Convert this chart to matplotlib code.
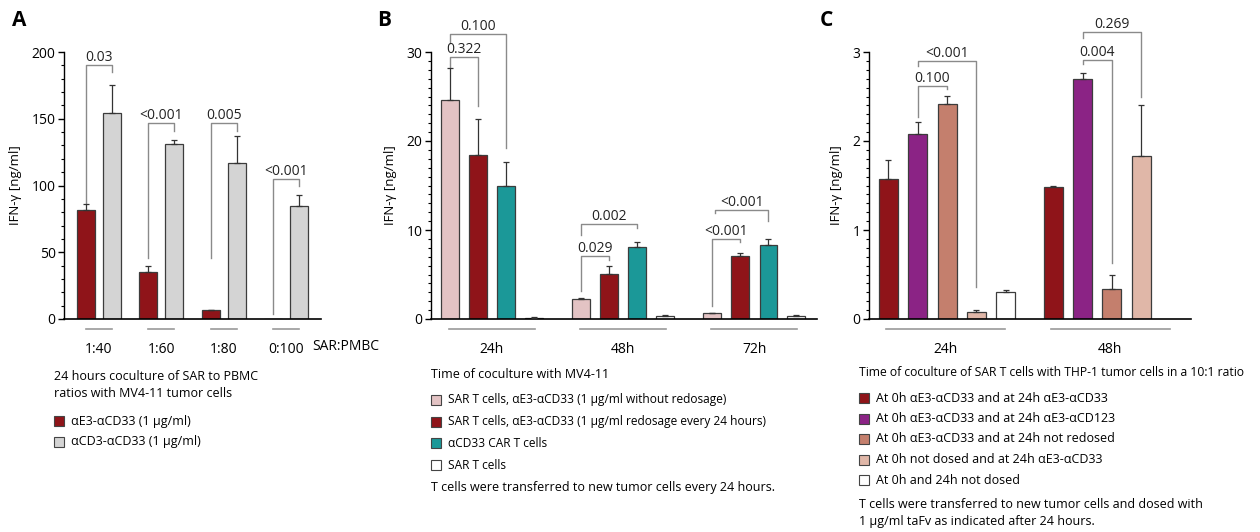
import matplotlib.pyplot as plt
import matplotlib.transforms as mtransforms
from matplotlib.patches import Rectangle

plt.rcParams['font.family'] = ['Open Sans', 'DejaVu Sans']

# ---- panel A data ----
a_groups = ["1:40", "1:60", "1:80", "0:100"]
a_red = [82, 35, 6.5, 0]
a_red_err = [4, 5, 0.5, 0]
a_gray = [154, 131, 117, 85]
a_gray_err = [21, 3, 20, 8]
a_pvals = ["0.03", "<0.001", "0.005", "<0.001"]
a_brk_y = [190, 147, 147, 105]
a_brk_left = [86, 46, 46, 4]
a_brk_right = [185, 141, 141, 100]

# ---- panel B data ----
b_groups = ["24h", "48h", "72h"]
b_pink = [24.6, 2.2, 0.65]
b_pink_err = [3.6, 0.15, 0.05]
b_red = [18.4, 5.1, 7.1]
b_red_err = [4.1, 0.9, 0.3]
b_teal = [15.0, 8.1, 8.3]
b_teal_err = [2.6, 0.5, 0.7]
b_white = [0.15, 0.35, 0.35]
b_white_err = [0.05, 0.15, 0.1]

# ---- panel C data ----
c_groups = ["24h", "48h"]
c_vals = [[1.57, 2.08, 2.42, 0.08, 0.30],
          [1.48, 2.70, 0.34, 1.83]]
c_errs = [[0.22, 0.13, 0.09, 0.02, 0.03],
          [0.02, 0.06, 0.15, 0.58]]

dred = "#8f1419"
gray = "#d4d4d4"
pink = "#e3c3c4"
teal = "#1b9898"
purple = "#8b2385"
salmon = "#c47f6d"
lpink = "#e0b7a8"
edge = "#3c3c3c"
brk = "#8a8a8a"

W, H = 1260, 532
fig = plt.figure(figsize=(W / 100, H / 100), dpi=100)


def make_ax(left, right, top, bottom):
    ax = fig.add_axes([left / W, (H - bottom) / H, (right - left) / W, (bottom - top) / H])
    ax.spines['top'].set_visible(False)
    ax.spines['right'].set_visible(False)
    ax.spines['left'].set_linewidth(1)
    ax.spines['bottom'].set_linewidth(1.2)
    ax.set_xticks([])
    ax.tick_params(axis='y', which='major', length=4, width=1, labelsize=10, pad=2)
    ax.tick_params(axis='y', which='minor', length=2, width=0.8)
    ax.set_ylabel("IFN-γ [ng/ml]", fontsize=9.5, labelpad=7)
    return ax


def bars(ax, x, h, err, color, w):
    ax.bar(x, h, width=w, color=color, edgecolor=edge, linewidth=0.9, zorder=2)
    for xi, hi, ei in zip(x, h, err):
        if hi > 0:
            ax.errorbar(xi, hi, yerr=[[0], [ei]], color="#333333", lw=0.9,
                        capsize=2.5, capthick=0.9, zorder=3)


def bracket(ax, x1, x2, y, yl, yr, label, fs=10):
    ax.plot([x1, x1, x2, x2], [yl, y, y, yr], color=brk, lw=1, clip_on=False, zorder=1)
    ax.text((x1 + x2) / 2, y, label, ha='center', va='bottom', fontsize=fs,
            color="#222222", clip_on=False)


def group_axis(ax, centers, half, labels, yline=-0.038, ylab=-0.085):
    tr = mtransforms.blended_transform_factory(ax.transData, ax.transAxes)
    for c, lab in zip(centers, labels):
        ax.plot([c - half, c + half], [yline, yline], color="#9a9a9a", lw=1.2,
                transform=tr, clip_on=False)
        ax.text(c, ylab, lab, transform=tr, ha='center', va='top', fontsize=10)


def legend_block(x, y0, items, dy, sq=10, fs=9):
    for i, (col, lab) in enumerate(items):
        y = y0 + i * dy
        fig.patches.append(Rectangle((x / W, (H - y - sq / 2) / H), sq / W, sq / H,
                                     transform=fig.transFigure, facecolor=col,
                                     edgecolor="#444444", lw=0.8))
        fig.text((x + sq + 7) / W, (H - y) / H, lab, fontsize=fs, va='center')


# ===== Panel A =====
axA = make_ax(64, 321, 52, 319)
axA.set_ylim(0, 200)
axA.set_xlim(-0.56, 3.56)
axA.set_yticks([0, 50, 100, 150, 200])
axA.set_yticks(range(0, 201, 10), minor=True)
xa = list(range(len(a_groups)))
off = 0.21
bw = 0.29
bars(axA, [x - off for x in xa], a_red, a_red_err, dred, bw)
bars(axA, [x + off for x in xa], a_gray, a_gray_err, gray, bw)
for i in xa:
    bracket(axA, i - off, i + off, a_brk_y[i], a_brk_left[i], a_brk_right[i], a_pvals[i])
group_axis(axA, xa, 0.21, a_groups)
fig.text(312 / W, (H - 346) / H, "SAR:PMBC", fontsize=10, va='center')
fig.text(12 / W, (H - 20) / H, "A", fontsize=15, fontweight='bold', va='center')
fig.text(54 / W, (H - 385) / H, "24 hours coculture of SAR to PBMC\nratios with MV4-11 tumor cells",
         fontsize=9, va='center', linespacing=1.45)
legend_block(54, 421, [(dred, "αE3-αCD33 (1 µg/ml)"), (gray, "αCD3-αCD33 (1 µg/ml)")], 21)

# ===== Panel B =====
axB = make_ax(431, 817, 52, 319)
axB.set_ylim(0, 30)
axB.set_xlim(-0.464, 2.48)
axB.set_yticks([0, 10, 20, 30])
axB.set_yticks(range(0, 31), minor=True)
xb = list(range(len(b_groups)))
boffs = [-0.32, -0.106, 0.11, 0.32]
bwb = 0.137
bars(axB, [x + boffs[0] for x in xb], b_pink, b_pink_err, pink, bwb)
bars(axB, [x + boffs[1] for x in xb], b_red, b_red_err, dred, bwb)
bars(axB, [x + boffs[2] for x in xb], b_teal, b_teal_err, teal, bwb)
bars(axB, [x + boffs[3] for x in xb], b_white, b_white_err, "white", bwb)
bracket(axB, boffs[0], boffs[1], 29.4, 28.3, 23.9, "0.322")
bracket(axB, boffs[0], boffs[2], 32.0, 31.0, 19.2, "0.100")
bracket(axB, 1 + boffs[0], 1 + boffs[2], 10.7, 9.4, 10.2, "0.002")
bracket(axB, 1 + boffs[0], 1 + boffs[1], 7.1, 3.2, 6.6, "0.029")
bracket(axB, 2 + boffs[0] + 0.02, 2 + boffs[2], 12.3, 11.9, 11.0, "<0.001")
bracket(axB, 2 + boffs[0], 2 + boffs[1], 9.0, 1.5, 8.6, "<0.001")
group_axis(axB, xb, 0.33, b_groups)
fig.text(377 / W, (H - 20) / H, "B", fontsize=15, fontweight='bold', va='center')
fig.text(431 / W, (H - 374) / H, "Time of coculture with MV4-11", fontsize=9, va='center')
legend_block(431, 400, [(pink, "SAR T cells, αE3-αCD33 (1 µg/ml without redosage)"),
                        (dred, "SAR T cells, αE3-αCD33 (1 µg/ml redosage every 24 hours)"),
                        (teal, "αCD33 CAR T cells"),
                        ("white", "SAR T cells")], 21.7, fs=8.6)
fig.text(431 / W, (H - 487) / H, "T cells were transferred to new tumor cells every 24 hours.",
         fontsize=9, va='center')

# ===== Panel C =====
axC = make_ax(869, 1191, 52, 319)
axC.set_ylim(0, 3)
axC.set_xlim(-0.473, 1.479)
axC.set_yticks([0, 1, 2, 3])
axC.set_yticks([i / 10 for i in range(31)], minor=True)
coffs = [-0.355, -0.178, 0.0, 0.178, 0.355]
ccols = [dred, purple, salmon, lpink, "white"]
bwc = 0.115
for g, (vals, errs) in enumerate(zip(c_vals, c_errs)):
    for k, (v, e) in enumerate(zip(vals, errs)):
        bars(axC, [g + coffs[k]], [v], [e], ccols[k], bwc)
bracket(axC, coffs[1], coffs[2], 2.62, 2.27, 2.58, "0.100")
bracket(axC, coffs[1], coffs[3], 2.90, 2.84, 0.36, "<0.001")
bracket(axC, 1 + coffs[1], 1 + coffs[2], 2.91, 2.86, 0.63, "0.004")
bracket(axC, 1 + coffs[1], 1 + coffs[3], 3.23, 3.16, 2.50, "0.269")
group_axis(axC, [-0.01, 0.99], 0.36, c_groups)
fig.text(820 / W, (H - 20) / H, "C", fontsize=15, fontweight='bold', va='center')
fig.text(859 / W, (H - 372) / H, "Time of coculture of SAR T cells with THP-1 tumor cells in a 10:1 ratio",
         fontsize=8.7, va='center')
legend_block(859, 398, [(dred, "At 0h αE3-αCD33 and at 24h αE3-αCD33"),
                        (purple, "At 0h αE3-αCD33 and at 24h αE3-αCD123"),
                        (salmon, "At 0h αE3-αCD33 and at 24h not redosed"),
                        (lpink, "At 0h not dosed and at 24h αE3-αCD33"),
                        ("white", "At 0h and 24h not dosed")], 20.5)
fig.text(859 / W, (H - 513) / H,
         "T cells were transferred to new tumor cells and dosed with\n1 µg/ml taFv as indicated after 24 hours.",
         fontsize=9, va='center', linespacing=1.4)

fig.savefig("out.png", dpi=100)
